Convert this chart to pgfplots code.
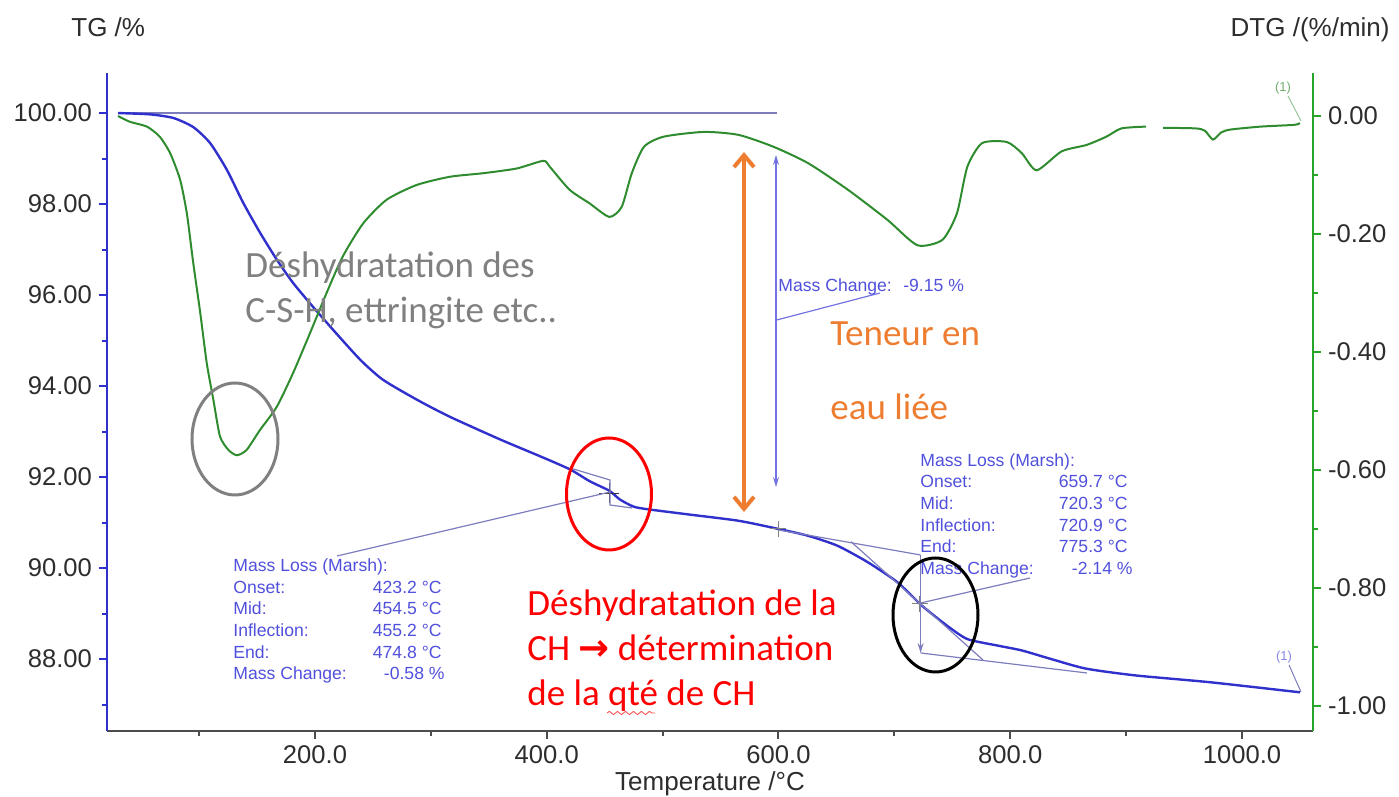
\documentclass[border=0pt]{standalone}
\usepackage{pgfplots}
\pgfplotsset{compat=1.18}
\usepackage{fontspec}
\setmainfont{Liberation Sans}
\newfontfamily\calfont{Carlito}
\newfontfamily\symfont{DejaVu Sans}
\usetikzlibrary{arrows.meta, decorations.pathmorphing}

\definecolor{tgblue}{RGB}{48,48,205}
\definecolor{dtggreen}{RGB}{46,140,46}
\definecolor{axgreen}{RGB}{40,165,40}
\definecolor{annblue}{RGB}{80,80,220}
\definecolor{conline}{RGB}{125,125,190}
\definecolor{orangeann}{RGB}{237,125,49}
\definecolor{ticktext}{RGB}{45,45,45}

\begin{document}
\begin{tikzpicture}
\useasboundingbox (-53.5pt,-33pt) rectangle (646pt,365.5pt);
\pgfplotsset{
  common/.style={
    scale only axis, width=603pt, height=329pt,
    xmin=20.5, xmax=1061.3,
    tick align=outside,
    major tick length=4pt, minor tick length=2.5pt,
    tick label style={font=\fontsize{12.8}{14}\selectfont, text=ticktext},
    /pgf/number format/assume math mode=true,
    /pgf/number format/1000 sep={},
  }
}

% TG (left axis)
\begin{axis}[common,
  ymin=86.42, ymax=100.88,
  axis x line*=bottom, axis y line*=left,
  x axis line style={-, draw=black!70, line width=1.2pt},
  y axis line style={-, draw=tgblue, line width=1pt},
  xtick={200,400,600,800,1000}, minor xtick={100,300,500,700,900},
  ytick={88,90,92,94,96,98,100}, minor ytick={87,89,91,93,95,97,99},
  xticklabel style={/pgf/number format/.cd, fixed, fixed zerofill, precision=1, 1000 sep={}},
  yticklabel style={/pgf/number format/.cd, fixed, fixed zerofill, precision=2},
  xtick style={draw=black!70, line width=1pt},
  ytick style={draw=tgblue, line width=1pt},
]
% reference line at 100 %
\addplot[conline, line width=0.7pt] coordinates {(30,100) (599,100)};

\addplot[tgblue, line width=1.2pt, smooth, tension=0.4] coordinates {
 (30,100.00) (58,99.97) (78,99.89) (95,99.69) (109.5,99.34) (124,98.75)
 (138,98.03) (152.6,97.37) (167,96.78) (181,96.27) (198,95.75) (215.5,95.24)
 (239,94.58) (258.6,94.14) (288,93.70) (316,93.33) (359.5,92.83) (394,92.46)
 (420,92.17) (437,91.91) (454,91.70) (463,91.51) (475,91.35) (488,91.29)
 (522,91.18) (565.5,91.04) (600,90.86) (625.6,90.71) (651,90.49) (677,90.13)
 (702.6,89.69) (724,89.17) (745.7,88.73) (763,88.44) (788.5,88.30) (810,88.19)
 (835.5,88.00) (865.5,87.79) (908.6,87.64) (973,87.49) (1050,87.27)
};

% evaluation markers
\addplot[only marks, mark=+, mark size=5pt, draw=black!80, line width=0.8pt] coordinates {(454,91.64)};
\addplot[only marks, mark=+, mark size=4pt, draw=black!50, line width=0.5pt] coordinates {(600,90.86) (722,89.22)};
\end{axis}

% DTG (right axis)
\begin{axis}[common,
  ymin=-1.0424, ymax=0.0729,
  axis x line=none, axis y line*=right,
  y axis line style={-, draw=axgreen, line width=1pt},
  ytick={-1,-0.8,-0.6,-0.4,-0.2,0}, minor ytick={-0.9,-0.7,-0.5,-0.3,-0.1},
  yticklabel style={/pgf/number format/.cd, fixed, fixed zerofill, precision=2},
  ytick style={draw=axgreen, line width=1pt},
]
\addplot[dtggreen, line width=1pt, smooth, tension=0.4] coordinates {
 (30,0.0) (40.5,-0.010) (55,-0.018) (66,-0.035) (75,-0.063) (83.6,-0.108)
 (89.4,-0.165) (95,-0.25) (101,-0.334) (106.6,-0.419) (112.3,-0.481) (118,-0.543)
 (125.3,-0.566) (132.5,-0.575) (141,-0.566) (152.6,-0.532) (167,-0.493) (181,-0.436)
 (195.7,-0.368) (210,-0.30) (224,-0.238) (241.6,-0.182) (261.8,-0.142) (287.6,-0.117)
 (316.4,-0.103) (345,-0.097) (374,-0.089) (397,-0.076) (402.6,-0.086) (419.7,-0.125)
 (436.9,-0.148) (454,-0.171) (464.7,-0.154) (473.4,-0.097) (484,-0.052) (501,-0.035)
 (535.6,-0.027) (565.5,-0.032) (595.5,-0.052) (625.6,-0.080) (659.9,-0.125) (694,-0.176)
 (719.8,-0.219) (741.4,-0.210) (754,-0.165) (763,-0.086) (775.7,-0.046) (797,-0.044)
 (810,-0.063) (822.8,-0.092) (844.3,-0.060) (866,-0.049) (883,-0.035) (896,-0.021)
 (917,-0.018)
};
\addplot[dtggreen, line width=1pt, smooth, tension=0.4] coordinates {
 (932,-0.020) (960,-0.021) (968,-0.025) (975,-0.040) (982,-0.028) (990,-0.023)
 (1016,-0.018) (1045,-0.015) (1050,-0.012)
};
\end{axis}

% annotations, in pixel units of the reference picture
\begin{scope}[x=0.5pt, y=-0.5pt, shift={(-53.5pt,365.5pt)}]
  % axis titles
  \node[anchor=base west, inner sep=0pt, text=ticktext, font=\fontsize{13}{15}\selectfont] at (71,37) {TG /\%};
  \node[anchor=base east, inner sep=0pt, text=ticktext, font=\fontsize{13}{15}\selectfont] at (1390,37) {DTG /(\%/min)};
  \node[anchor=base, inner sep=0pt, text=ticktext, font=\fontsize{13}{15}\selectfont] at (710,791) {Temperature /°C};

  % construction lines around 455 C
  \draw[conline, line width=0.6pt] (570,468) -- (610,480) -- (610,505) -- (632,508);
  \draw[conline, line width=0.6pt] (337,556) -- (610,492);
  % construction lines around 720 C
  \draw[conline, line width=0.6pt] (779,530) -- (920.6,555);
  \draw[conline, line width=0.6pt, -{Stealth[length=5pt,width=3pt]}] (920.6,555) -- (920.6,653);
  \draw[conline, line width=0.6pt] (920.6,653) -- (1087,673);
  \draw[conline, line width=0.6pt] (851,541.7) -- (983,660);
  \draw[conline, line width=0.6pt] (1030,578) -- (920.6,603);

  % total mass change arrow
  \draw[annblue!80, line width=0.6pt, {Stealth[length=5pt,width=3pt]}-{Stealth[length=5pt,width=3pt]}] (776,155) -- (776,487);
  \draw[annblue!80, line width=0.6pt] (776.7,320) -- (880,293);
  \node[anchor=base west, inner sep=0pt, text=annblue, font=\fontsize{8.8}{10}\selectfont] at (778,291.7) {Mass Change: \ -9.15 \%};

  % orange double arrow
  \draw[orangeann, line width=2pt, {Straight Barb[length=6pt,width=10pt]}-{Straight Barb[length=6pt,width=10pt]}] (744,152) -- (744,512);

  % evaluation boxes
  \begin{scope}[every node/.style={inner sep=0pt, text=annblue, font=\fontsize{8.8}{10}\selectfont}]
    \node[anchor=base west] at (233,572) {Mass Loss (Marsh):};
    \node[anchor=base west] at (233,593.5) {Onset:};
    \node[anchor=base west] at (233,615) {Mid:};
    \node[anchor=base west] at (233,637) {Inflection:};
    \node[anchor=base west] at (233,658.5) {End:};
    \node[anchor=base west] at (233,680) {Mass Change:};
    \node[anchor=base east] at (442,593.5) {423.2 °C};
    \node[anchor=base east] at (442,615) {454.5 °C};
    \node[anchor=base east] at (442,637) {455.2 °C};
    \node[anchor=base east] at (442,658.5) {474.8 °C};
    \node[anchor=base east] at (445,680) {-0.58 \%};
    \node[anchor=base west] at (920,466.7) {Mass Loss (Marsh):};
    \node[anchor=base west] at (920,488) {Onset:};
    \node[anchor=base west] at (920,510) {Mid:};
    \node[anchor=base west] at (920,531.7) {Inflection:};
    \node[anchor=base west] at (920,553) {End:};
    \node[anchor=base west] at (920,575) {Mass Change:};
    \node[anchor=base east] at (1128,488) {659.7 °C};
    \node[anchor=base east] at (1128,510) {720.3 °C};
    \node[anchor=base east] at (1128,531.7) {720.9 °C};
    \node[anchor=base east] at (1128,553) {775.3 °C};
    \node[anchor=base east] at (1133,575) {-2.14 \%};
  \end{scope}

  % end markers (1)
  \node[anchor=base, inner sep=0pt, text=dtggreen!70, font=\fontsize{6.5}{7}\selectfont] at (1283,92) {(1)};
  \draw[dtggreen!50, line width=0.5pt] (1288,96) -- (1301,121);
  \node[anchor=base, inner sep=0pt, text=annblue!70, font=\fontsize{6.5}{7}\selectfont] at (1284,661) {(1)};
  \draw[conline, line width=0.5pt] (1289,665) -- (1301,692);

  % ellipses
  \draw[gray, line width=1.5pt] (235,439) ellipse [x radius=43, y radius=56];
  \draw[red, line width=1.5pt] (609,494) ellipse [x radius=42.5, y radius=56];
  \draw[black, line width=1.5pt] (935.5,615) ellipse [x radius=42.5, y radius=57];

  % comments
  \begin{scope}[every node/.style={inner sep=0pt, anchor=base west, font=\calfont\fontsize{18.5}{22}\selectfont}]
    \node[text=gray] at (245,278) {Déshydratation des};
    \node[text=gray] at (245,323) {C-S-H, ettringite etc..};
    \node[text=orangeann] at (830,346) {Teneur en};
    \node[text=orangeann] at (830,420) {eau liée};
    \node[text=red] at (527,616) {Déshydratation de la};
    \node[text=red] at (527,661) {CH {\symfont\bfseries →} détermination};
    \node[text=red] at (527,706) {de la qté de CH};
  \end{scope}
  \draw[red!70, line width=0.4pt, decorate, decoration={snake, amplitude=0.8, segment length=4}] (607,713) -- (655,713);
\end{scope}
\end{tikzpicture}
\end{document}
